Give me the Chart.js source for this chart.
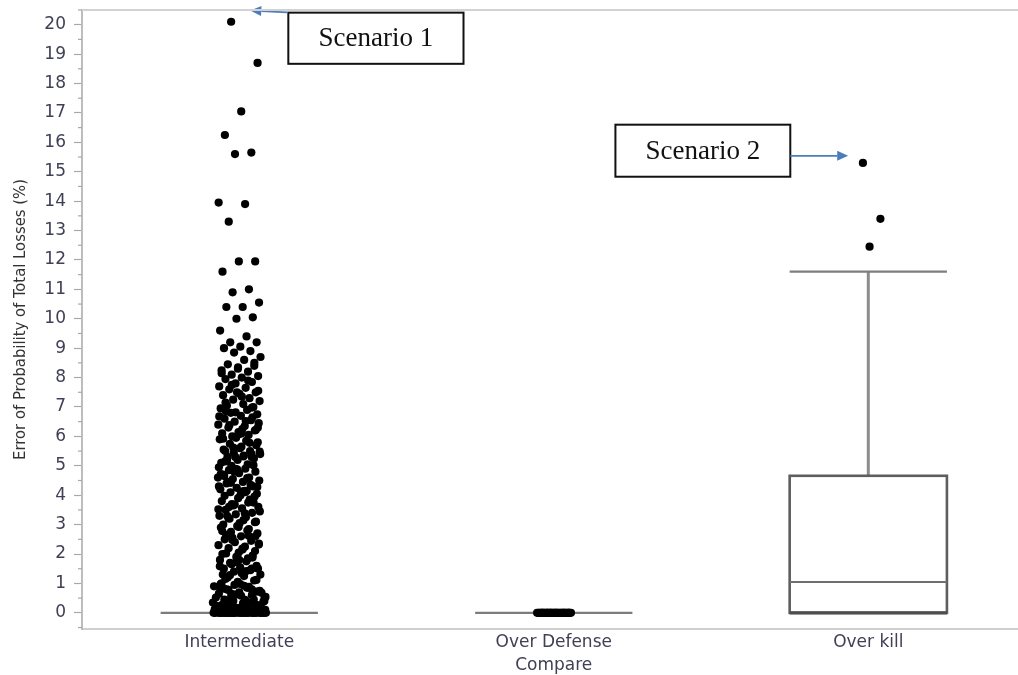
<!DOCTYPE html>
<html>
<head>
<meta charset="utf-8">
<title>Error of Probability of Total Losses</title>
<script src="https://cdn.jsdelivr.net/npm/chart.js@4/dist/chart.umd.min.js"></script>
<style>
  html, body { margin: 0; padding: 0; background: #ffffff; }
  #wrap { width: 1018px; height: 675px; }
</style>
</head>
<body>
<div id="wrap"><canvas id="chart" width="1018" height="675"></canvas></div>
<script>
// ---- data ----
const categories = ['Intermediate', ['Over Defense', 'Compare'], 'Over kill'];
const yTickValues = [0, 1, 2, 3, 4, 5, 6, 7, 8, 9, 10, 11, 12, 13, 14, 15, 16, 17, 18, 19, 20];

// Individual observations, Intermediate group (%)
const intermediateValues = [
  20.1, 18.7, 17.05, 16.25, 15.65, 15.6, 13.95, 13.9, 13.3,
  11.95, 11.95, 11.6, 11.0, 10.9, 10.55, 10.4, 10.4, 10.05, 10.0,
  9.6, 9.4, 9.2, 9.2, 9.05, 9.0, 8.9, 8.85,
  8.7, 8.6, 8.45, 8.4, 8.3, 8.25, 8.2, 8.1, 8.05, 8.0,
  7.95, 7.85, 7.8, 7.7, 7.65, 7.6, 7.5, 7.45, 7.4, 7.3, 7.25, 7.2, 7.1, 7.05, 7.0, 7.5,
  6.95, 6.9, 6.8, 6.75, 6.7, 6.6, 6.55, 6.5, 6.4, 6.35, 6.3, 6.2, 6.15, 6.1, 6.05, 6.0, 6.45, 6.25, 6.85, 6.65,
  5.95, 5.9, 5.85, 5.75, 5.7, 5.6, 5.55, 5.5, 5.45, 5.4, 5.35, 5.3, 5.25, 5.2, 5.1, 5.05, 5.0, 5.8, 5.65, 5.15, 5.4, 5.3,
  4.95, 4.9, 4.85, 4.8, 4.75, 4.7, 4.6, 4.55, 4.5, 4.45, 4.4, 4.3, 4.25, 4.2, 4.15, 4.1, 4.05, 4.0, 4.65, 4.35, 4.8, 4.6, 4.15, 4.45,
  3.95, 3.9, 3.8, 3.75, 3.7, 3.6, 3.55, 3.5, 3.4, 3.35, 3.3, 3.25, 3.2, 3.1, 3.05, 3.0, 3.85, 3.65, 3.45, 3.15, 3.3, 3.75,
  2.95, 2.9, 2.8, 2.75, 2.7, 2.6, 2.5, 2.45, 2.4, 2.3, 2.25, 2.2, 2.1, 2.05, 2.0, 2.85, 2.55, 2.35, 2.15, 2.65,
  1.95, 1.9, 1.8, 1.75, 1.7, 1.6, 1.55, 1.5, 1.45, 1.4, 1.3, 1.25, 1.2, 1.1, 1.05, 1.0, 1.85, 1.65, 1.5, 1.35, 1.15, 1.5,
  0.95, 0.9, 0.85, 0.8, 0.75, 0.7, 0.65, 0.6, 0.55, 0.5, 0.92, 0.82, 0.72, 0.62, 0.52, 0.88, 0.78, 0.68, 0.58, 0.98,
  0.45, 0.4, 0.35, 0.3, 0.25, 0.2, 0.15, 0.1, 0.05, 0.42, 0.38, 0.32, 0.28, 0.22, 0.18, 0.12, 0.08, 0.35, 0.25, 0.15,
  0.05, 0.3, 0.2, 0.1, 0.4, 0.45, 0.06, 0.14, 0.24, 0.34,
  0, 0, 0, 0, 0, 0, 0, 0, 0, 0, 0, 0, 0, 0, 0, 0, 0, 0, 0, 0, 0, 0, 0, 0, 0, 0, 0, 0, 0, 0,
  8.5, 8.35, 8.15, 7.9, 7.75, 7.55, 7.35, 7.15, 6.98, 6.82, 6.68, 6.52, 6.38, 6.22, 6.08, 5.92,
  5.78, 5.62, 5.48, 5.32, 5.18, 5.02, 4.88, 4.72, 4.58, 4.42, 4.28, 4.12, 3.98, 3.82, 3.68, 3.52,
  3.38, 3.22, 3.08, 2.92, 2.78, 2.62, 2.48, 2.32, 2.18, 2.02, 1.88, 1.72, 1.58, 1.42, 1.28, 1.12,
  0.98, 0.86, 0.74, 0.64, 0.54, 0.44, 0.36, 0.26, 0.16, 0.07, 0.02, 0.03,
  6.3, 6.1, 5.5, 5.3, 4.9, 4.3, 4.1, 3.6, 2.6, 1.8, 1.3, 0.8, 0.6, 0.4, 0.2, 0.1
];

// Individual observations, Over Defense Compare group (%)
const overDefenseValues = [
  0, 0, 0, 0, 0, 0, 0, 0, 0, 0, 0, 0, 0, 0, 0, 0, 0, 0, 0, 0,
  0, 0, 0, 0, 0, 0, 0, 0, 0, 0, 0, 0, 0, 0, 0, 0, 0, 0, 0, 0
];

// Outlying observations, Over kill group (%)
const overKillOutliers = [15.3, 13.4, 12.45];

// Box summaries per group (%)
const boxWhiskerLow = [0, 0, 0];
const boxQ1 = [0, 0, 0];
const boxMedian = [0, 0, 1.05];
const boxQ3 = [0, 0, 4.66];
const boxWhiskerHigh = [0, 0, 11.6];

// Callout labels, placed in axis units
const callouts = [
  { text: 'Scenario 1', x0: 0.156, x1: 0.713, yTop: 20.41, yBottom: 18.67,
    arrowFrom: [0.153, 20.42], arrowTo: [0.035, 20.48] },
  { text: 'Scenario 2', x0: 1.196, x1: 1.752, yTop: 16.6, yBottom: 14.83,
    arrowFrom: [1.752, 15.54], arrowTo: [1.936, 15.54] }
];

// ---- presentation ----
const tickColor = '#404056';
const boxHalfWidth = 0.25;

// evenly spread horizontal offsets (golden-ratio sequence) in [-1, 1)
function spreadOffset(i) {
  return ((i * 0.6180339887 + 0.31) % 1) * 2 - 1;
}
function jittered(values, group, width, widthNearZero) {
  return values.map((v, i) => ({
    x: group + spreadOffset(i) * (v < 1 ? widthNearZero : width),
    y: v
  }));
}

const pointStyle = {
  showLine: false,
  pointRadius: 4.1,
  pointHoverRadius: 4.1,
  pointBackgroundColor: '#000000',
  pointBorderColor: '#000000',
  pointBorderWidth: 0
};

const boxPlugin = {
  id: 'boxes',
  beforeDatasetsDraw(chart) {
    const { ctx, scales: { x, y } } = chart;
    ctx.save();
    ctx.lineCap = 'butt';
    categories.forEach((c, i) => {
      const cx = x.getPixelForValue(i);
      const xl = x.getPixelForValue(i - boxHalfWidth);
      const xr = x.getPixelForValue(i + boxHalfWidth);
      const yq1 = y.getPixelForValue(boxQ1[i]);
      const yq3 = y.getPixelForValue(boxQ3[i]);
      const ymed = y.getPixelForValue(boxMedian[i]);
      const ylo = y.getPixelForValue(boxWhiskerLow[i]);
      const yhi = y.getPixelForValue(boxWhiskerHigh[i]);
      if (boxQ3[i] === boxQ1[i] && boxWhiskerHigh[i] === boxWhiskerLow[i]) {
        ctx.strokeStyle = '#7c7c7c';
        ctx.lineWidth = 2.2;
        ctx.beginPath(); ctx.moveTo(xl, yq1); ctx.lineTo(xr, yq1); ctx.stroke();
        return;
      }
      // upper whisker
      ctx.strokeStyle = '#8c8c8c';
      ctx.lineWidth = 3;
      ctx.beginPath(); ctx.moveTo(cx, yq3); ctx.lineTo(cx, yhi); ctx.stroke();
      ctx.lineWidth = 2.2;
      ctx.strokeStyle = '#7e7e7e';
      ctx.beginPath(); ctx.moveTo(xl, yhi); ctx.lineTo(xr, yhi); ctx.stroke();
      // box
      ctx.fillStyle = '#ffffff';
      ctx.fillRect(xl, yq3, xr - xl, yq1 - yq3);
      ctx.strokeStyle = '#5e5e5e';
      ctx.lineWidth = 2.6;
      ctx.strokeRect(xl, yq3, xr - xl, yq1 - yq3);
      // median
      ctx.strokeStyle = '#6e6e6e';
      ctx.lineWidth = 2;
      ctx.beginPath(); ctx.moveTo(xl, ymed); ctx.lineTo(xr, ymed); ctx.stroke();
      // lower whisker cap (coincides with the box floor)
      ctx.strokeStyle = '#4e4e4e';
      ctx.lineWidth = 3.4;
      ctx.beginPath(); ctx.moveTo(xl, ylo); ctx.lineTo(xr, ylo); ctx.stroke();
    });
    ctx.restore();
  }
};

const framePlugin = {
  id: 'frame',
  afterDraw(chart) {
    const { ctx, chartArea: a, scales: { y } } = chart;
    ctx.save();
    // top frame line
    ctx.strokeStyle = '#d2d2d2';
    ctx.lineWidth = 2;
    ctx.beginPath(); ctx.moveTo(a.left, a.top); ctx.lineTo(a.right, a.top); ctx.stroke();
    // minor ticks at the half units
    ctx.strokeStyle = '#a8a8a8';
    ctx.lineWidth = 1.2;
    for (let k = 0; k < yTickValues.length; k++) {
      const v = yTickValues[k] + 0.5;
      if (v > y.max) break;
      const py = y.getPixelForValue(v);
      ctx.beginPath(); ctx.moveTo(a.left - 4, py); ctx.lineTo(a.left, py); ctx.stroke();
    }
    const py = y.getPixelForValue(yTickValues[0] - 0.5);
    if (py <= a.bottom) { ctx.beginPath(); ctx.moveTo(a.left - 4, py); ctx.lineTo(a.left, py); ctx.stroke(); }
    ctx.restore();
  }
};

const calloutPlugin = {
  id: 'callouts',
  afterDatasetsDraw(chart) {
    const { ctx, scales: { x, y } } = chart;
    ctx.save();
    callouts.forEach(c => {
      const l = x.getPixelForValue(c.x0), r = x.getPixelForValue(c.x1);
      const t = y.getPixelForValue(c.yTop), b = y.getPixelForValue(c.yBottom);
      ctx.fillStyle = '#ffffff';
      ctx.fillRect(l, t, r - l, b - t);
      ctx.strokeStyle = '#111111';
      ctx.lineWidth = 2;
      ctx.strokeRect(l, t, r - l, b - t);
      ctx.fillStyle = '#111111';
      ctx.font = '27px "Liberation Serif", "Times New Roman", serif';
      ctx.textAlign = 'center';
      ctx.textBaseline = 'middle';
      ctx.fillText(c.text, (l + r) / 2, (t + b) / 2 + 1);
      // arrow
      const fx = x.getPixelForValue(c.arrowFrom[0]), fy = y.getPixelForValue(c.arrowFrom[1]);
      const tx = x.getPixelForValue(c.arrowTo[0]), ty = y.getPixelForValue(c.arrowTo[1]);
      const ang = Math.atan2(ty - fy, tx - fx);
      const head = 11, hw = 5;
      const bx = tx - head * Math.cos(ang), by = ty - head * Math.sin(ang);
      ctx.strokeStyle = '#4a7ebb';
      ctx.fillStyle = '#4a7ebb';
      ctx.lineWidth = 1.6;
      ctx.beginPath(); ctx.moveTo(fx, fy); ctx.lineTo(bx, by); ctx.stroke();
      ctx.beginPath();
      ctx.moveTo(tx, ty);
      ctx.lineTo(bx + hw * Math.sin(ang), by - hw * Math.cos(ang));
      ctx.lineTo(bx - hw * Math.sin(ang), by + hw * Math.cos(ang));
      ctx.closePath();
      ctx.fill();
    });
    ctx.restore();
  }
};

new Chart(document.getElementById('chart'), {
  type: 'scatter',
  data: {
    datasets: [
      Object.assign({ label: 'Intermediate', data: jittered(intermediateValues, 0, 0.068, 0.085) }, pointStyle),
      Object.assign({ label: 'Over Defense Compare', data: jittered(overDefenseValues, 1, 0.055, 0.055) }, pointStyle),
      Object.assign({ label: 'Over kill', data: jittered(overKillOutliers, 2, 0.045, 0.045) }, pointStyle)
    ]
  },
  options: {
    responsive: false,
    animation: false,
    devicePixelRatio: 1,
    layout: { autoPadding: false, padding: { top: 10, right: 0, bottom: 0, left: 0 } },
    plugins: { legend: { display: false }, tooltip: { enabled: false } },
    scales: {
      x: {
        type: 'linear',
        min: -0.5,
        max: 2.476,
        afterFit(scale) { scale.height = 46; scale.paddingLeft = 0; scale.paddingRight = 0; },
        afterBuildTicks(scale) { scale.ticks = categories.map((c, i) => ({ value: i })); },
        grid: { display: false },
        border: { display: true, color: '#cfcfcf', width: 2 },
        ticks: {
          autoSkip: false,
          maxRotation: 0,
          padding: -5,
          color: tickColor,
          font: { family: '"DejaVu Sans", sans-serif', size: 17, lineHeight: 1.3 },
          callback: (v) => categories[v]
        }
      },
      y: {
        type: 'linear',
        min: -0.55,
        max: 20.5,
        afterFit(scale) { scale.width = 82; scale.paddingTop = 0; scale.paddingBottom = 0; },
        afterBuildTicks(scale) { scale.ticks = yTickValues.map(v => ({ value: v })); },
        grid: { display: true, drawOnChartArea: false, drawTicks: true, tickLength: 8, tickColor: '#a8a8a8', tickWidth: 1.2 },
        border: { display: true, color: '#bdbdbd', width: 2 },
        ticks: {
          padding: 8,
          color: tickColor,
          font: { family: '"DejaVu Sans", sans-serif', size: 17, lineHeight: 1 }
        },
        title: {
          display: true,
          text: 'Error of Probability of Total Losses (%)',
          color: '#333333',
          padding: { top: 11, bottom: 0 },
          font: { family: '"Liberation Sans Narrow", "DejaVu Sans Condensed", sans-serif', size: 16.5 }
        }
      }
    }
  },
  plugins: [boxPlugin, calloutPlugin, framePlugin]
});
</script>
</body>
</html>
